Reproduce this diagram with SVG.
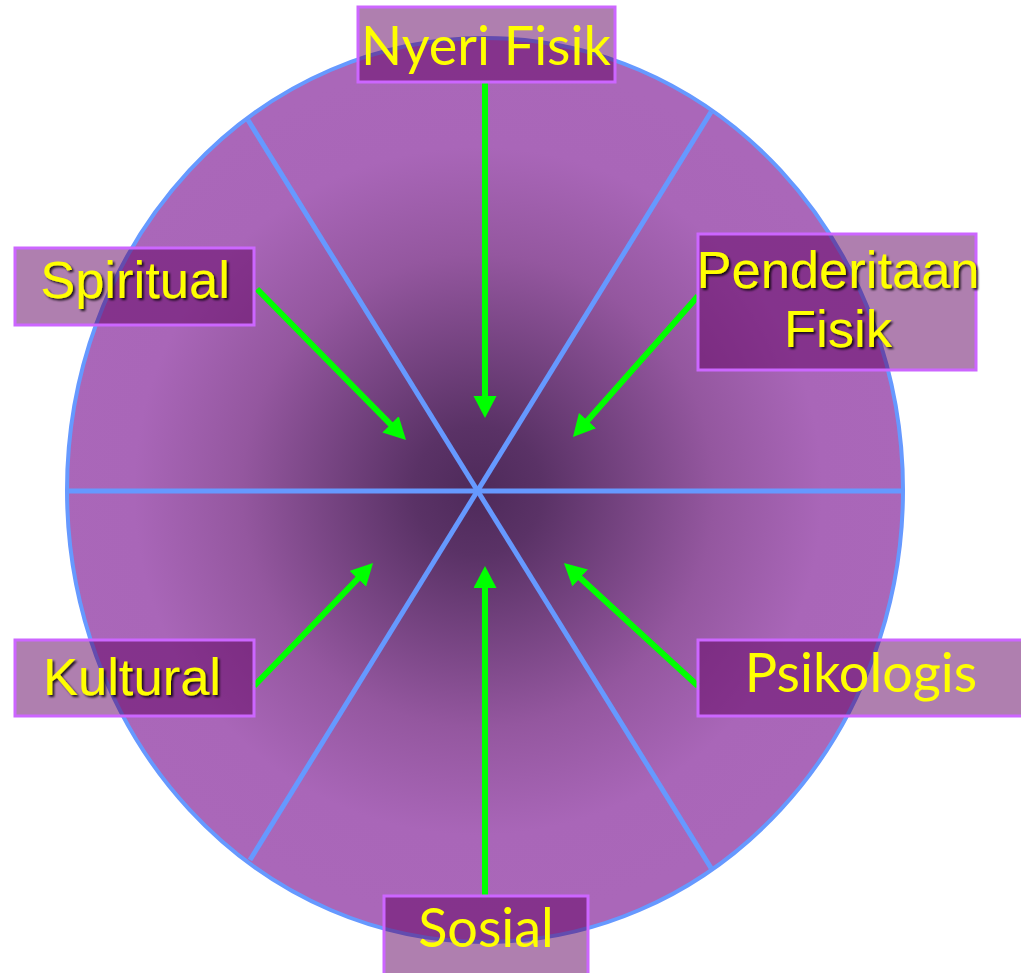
<svg xmlns="http://www.w3.org/2000/svg" width="1021" height="973" viewBox="0 0 1021 973">
<style>
.spoke{stroke:#6699ff;stroke-width:5;fill:none}
.arrow{stroke:#00ff00;stroke-width:6;fill:none;marker-end:url(#ah)}
.box{fill:#600060;fill-opacity:0.5;stroke:#cc66ff;stroke-width:3}
.ta{font-family:"Liberation Sans",Arial,sans-serif;font-size:52.5px;fill:#ffff00;text-anchor:middle;filter:url(#ds)}
.tl{font-family:Lato,"Open Sans",sans-serif;font-size:54px;fill:#ffff00;text-anchor:middle}
</style>
<defs>
<radialGradient id="rg" cx="478" cy="491" r="430" gradientUnits="userSpaceOnUse">
<stop offset="0" stop-color="#4e2a5a"/>
<stop offset="0.15" stop-color="#5a3266"/>
<stop offset="0.55" stop-color="#94579f"/>
<stop offset="0.8" stop-color="#a966b8"/>
<stop offset="1" stop-color="#aa67b9"/>
</radialGradient>
<marker id="ah" markerUnits="userSpaceOnUse" markerWidth="24" markerHeight="24" refX="12" refY="11.5" orient="auto">
<path d="M0,0 L22,11.5 L0,23 Z" fill="#00ff00"/>
</marker>
<filter id="ds" x="-10%" y="-10%" width="130%" height="140%">
<feDropShadow dx="2" dy="2" stdDeviation="0.8" flood-color="#000" flood-opacity="0.8"/>
</filter>
</defs>
<g id="wheel">
<ellipse cx="485" cy="490" rx="418" ry="452" fill="url(#rg)" stroke="#6699ff" stroke-width="4"/>
<line class="spoke" x1="67" y1="491" x2="903" y2="491"/>
<line class="spoke" x1="248" y1="120" x2="711" y2="868"/>
<line class="spoke" x1="711" y1="112" x2="250" y2="860"/>
</g>
<g id="connectors">
<line class="arrow" x1="485" y1="83" x2="485" y2="408"/>
<line class="arrow" x1="257" y1="289" x2="399" y2="432.9"/>
<line class="arrow" x1="698" y1="296" x2="579.6" y2="429.5"/>
<line class="arrow" x1="254" y1="686" x2="366.1" y2="570.2"/>
<line class="arrow" x1="698" y1="686" x2="571.3" y2="569.8"/>
<line class="arrow" x1="485" y1="895" x2="485" y2="576"/>
</g>
<g id="nyeri-fisik">
<rect class="box" x="358" y="7" width="257" height="75"/>
<text class="tl" x="486" y="65">Nyeri Fisik</text>
</g>
<g id="spiritual">
<rect class="box" x="15" y="248" width="239" height="77"/>
<text class="ta" x="135" y="298">Spiritual</text>
</g>
<g id="penderitaan-fisik">
<rect class="box" x="698" y="234" width="278" height="136"/>
<text class="ta" x="838" y="288">Penderitaan</text>
<text class="ta" x="838" y="347">Fisik</text>
</g>
<g id="kultural">
<rect class="box" x="15" y="640" width="239" height="76"/>
<text class="ta" x="132" y="695">Kultural</text>
</g>
<g id="psikologis">
<rect class="box" x="698" y="640" width="326" height="76"/>
<text class="tl" x="861" y="692">Psikologis</text>
</g>
<g id="sosial">
<rect class="box" x="384" y="896" width="204" height="79"/>
<text class="tl" x="486" y="947">Sosial</text>
</g>
</svg>
